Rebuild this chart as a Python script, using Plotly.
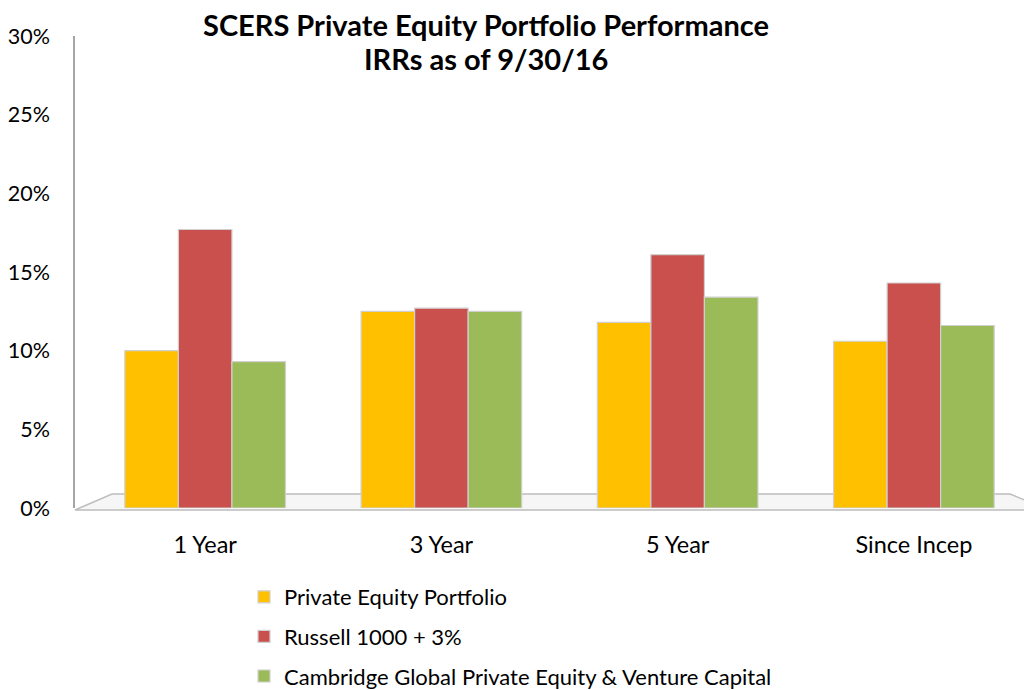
import plotly.graph_objects as go

categories = ["1 Year", "3 Year", "5 Year", "Since Incep"]
pe_portfolio = [10.0, 12.5, 11.8, 10.6]
russell = [17.7, 12.7, 16.1, 14.3]
cambridge = [9.3, 12.5, 13.4, 11.6]
series_names = ["Private Equity Portfolio", "Russell 1000 + 3%",
                "Cambridge Global Private Equity & Venture Capital"]
colors = ["#FFC000", "#C9504D", "#9BBB59"]
y_ticks = [0, 5, 10, 15, 20, 25, 30]
title_lines = ["SCERS Private Equity Portfolio Performance", "IRRs as of 9/30/16"]

FONT = "Lato, 'Open Sans', sans-serif"
OFF = 8  # page body margin
W, H = 1032 - OFF, 690 - OFF
# plot area in page pixels
PX0, PX1, PY0, PY1 = 75, 1032, 36, 508
L, R, T, B = PX0 - OFF, (W + OFF) - PX1, PY0 - OFF, (H + OFF) - PY1
pw, ph = PX1 - PX0, PY1 - PY0

def px_x(px):
    return (px - PX0) / pw

def px_y(py):
    return (PY1 - py) / ph

def cont_y(py):
    return 1 - (py - OFF) / H

fig = go.Figure()
for i, (name, vals) in enumerate(zip(series_names, [pe_portfolio, russell, cambridge])):
    fig.add_trace(go.Bar(
        x=categories, y=vals, name=name, legendgroup=f"g{i}",
        marker=dict(color=colors[i], line=dict(color="#d0d0d0", width=1.2)),
    ))

# 3D-like floor decoration
floor_path = (f"M {px_x(75)},{px_y(510)} L {px_x(112)},{px_y(494)} "
              f"L {px_x(1010)},{px_y(494)} L {px_x(1032)},{px_y(503)} "
              f"L {px_x(1032)},{px_y(510)} Z")

fig.update_layout(
    width=W, height=H,
    margin=dict(l=L, r=R, t=T, b=B, pad=0, autoexpand=False),
    paper_bgcolor="white", plot_bgcolor="white",
    barmode="group", bargap=0.32, bargroupgap=0,
    font=dict(family=FONT, size=22, color="#000000"),
    showlegend=True,
    legend=dict(x=px_x(244), xanchor="left", yref="container", y=cont_y(576), yanchor="top",
                tracegroupgap=8, font=dict(size=22), itemwidth=30,
                traceorder="grouped"),
    shapes=[dict(type="path", xref="paper", yref="paper", path=floor_path,
                 fillcolor="#f6f6f6", line=dict(color="#bdbdbd", width=1.5),
                 layer="below")],
    annotations=[
        dict(text=f"<b>{title_lines[0]}</b>", xref="paper", yref="paper",
             x=px_x(486), y=px_y(24), xanchor="center", yanchor="middle", showarrow=False,
             borderpad=0, font=dict(size=29, family=FONT)),
        dict(text=f"<b>{title_lines[1]}</b>", xref="paper", yref="paper",
             x=px_x(486), y=px_y(59), xanchor="center", yanchor="middle", showarrow=False,
             borderpad=0, font=dict(size=29, family=FONT)),
    ],
)
fig.update_yaxes(range=[0, 30], tickvals=y_ticks, ticktext=[f"{v}%" for v in y_ticks],
                 showgrid=False, zeroline=False, showline=True, linecolor="#a6a6a6",
                 linewidth=1.5, ticks="", ticklabelstandoff=19, tickfont=dict(size=21.5))
fig.update_xaxes(showgrid=False, showline=False, ticks="", ticklabelstandoff=20,
                 tickfont=dict(size=23.5), range=[-0.551, 3.5])

fig.write_html("out.html")
